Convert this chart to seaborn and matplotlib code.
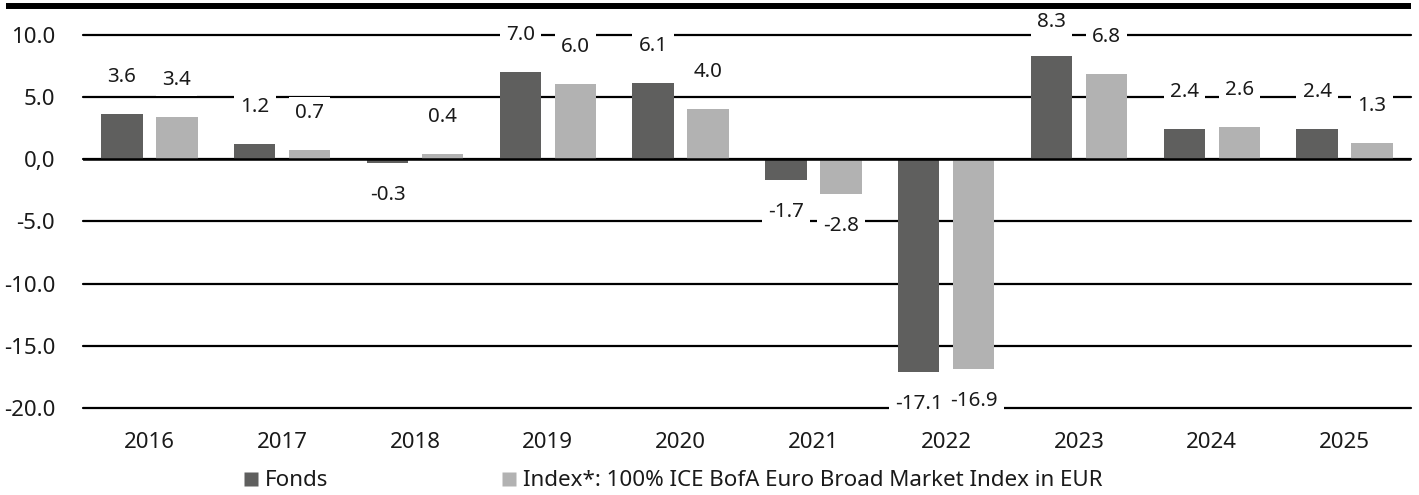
import matplotlib
matplotlib.use("Agg")
import matplotlib.pyplot as plt
from matplotlib.lines import Line2D
import seaborn as sns
import pandas as pd

years = ["2016", "2017", "2018", "2019", "2020", "2021", "2022", "2023", "2024", "2025"]
fonds = [3.6, 1.2, -0.3, 7.0, 6.1, -1.7, -17.1, 8.3, 2.4, 2.4]
index_vals = [3.4, 0.7, 0.4, 6.0, 4.0, -2.8, -16.9, 6.8, 2.6, 1.3]
series_names = ["Fonds", "Index*: 100% ICE BofA Euro Broad Market Index in EUR"]
ytick_vals = [10, 5, 0, -5, -10, -15, -20]
ytick_labels = ["10.0", "5.0", "0,0", "-5.0", "-10.0", "-15.0", "-20.0"]
colors = ["#5f5f5e", "#b2b2b2"]

sns.set_theme(style="white")
plt.rcParams["font.family"] = ["Noto Sans", "DejaVu Sans"]

df = pd.DataFrame({
    "year": years * 2,
    "value": fonds + index_vals,
    "series": [series_names[0]] * len(years) + [series_names[1]] * len(years),
})

DPI = 100
fig = plt.figure(figsize=(14.19, 4.95), dpi=DPI)
ax = fig.add_axes([83 / 1419, 87 / 495, (1411 - 83) / 1419, 402 / 495])

sns.barplot(data=df, x="year", y="value", hue="series", palette=colors,
            width=0.828, gap=0.25, ax=ax, legend=False, saturation=1,
            edgecolor="none", linewidth=0, zorder=3, order=years,
            hue_order=series_names)

YMAX = 12.3
ax.set_xlim(-0.5, 9.5)
ax.set_ylim(-20, YMAX)
ax.set_yticks(ytick_vals)
ax.set_yticklabels(ytick_labels)
for s in ax.spines.values():
    s.set_visible(False)
ax.tick_params(axis="both", length=0, labelsize=16, colors="#1a1a1a")
ax.tick_params(axis="y", pad=20)
ax.tick_params(axis="x", pad=17)
ax.set_xlabel("")
ax.set_ylabel("")

for v in ytick_vals:
    ax.axhline(v, color="black", lw=1.6, zorder=1, clip_on=False)
ax.axhline(0, color="black", lw=1.8, zorder=4)

# value labels: fixed pixel offset from bar end, kept below the top rule
fig.canvas.draw()
px_per_unit = ax.bbox.height / (YMAX + 20)
for cont, vals in zip(ax.containers, [fonds, index_vals]):
    for patch, v in zip(cont.patches, vals):
        xc = patch.get_x() + patch.get_width() / 2
        if v >= 0:
            y = min(v + 37 / px_per_unit, YMAX - 16 / px_per_unit)
        else:
            y = v - 32 / px_per_unit
        ax.text(xc, y, f"{v:.1f}", ha="center", va="center", fontsize=14.8,
                color="#1a1a1a",
                bbox=dict(boxstyle="square,pad=0.3", fc="white", ec="none"),
                zorder=5, clip_on=False)

# thick top rule
fig.add_artist(Line2D([6 / 1419, 1411 / 1419], [1 - 6.0 / 495, 1 - 6.0 / 495],
                      transform=fig.transFigure, color="black", lw=4.3,
                      solid_capstyle="butt", zorder=10))

handles = [Line2D([], [], marker="s", linestyle="none", markersize=10,
                  markerfacecolor=c, markeredgecolor="none") for c in colors]
fig.legend(handles, series_names, loc="center left", bbox_to_anchor=(243 / 1419, 14 / 495),
           ncol=2, frameon=False, fontsize=16.1, handlelength=0.7, handletextpad=0.3,
           columnspacing=7.7, borderpad=0, borderaxespad=0, labelcolor="#1a1a1a")

fig.savefig("out.png", dpi=DPI, facecolor="white")
